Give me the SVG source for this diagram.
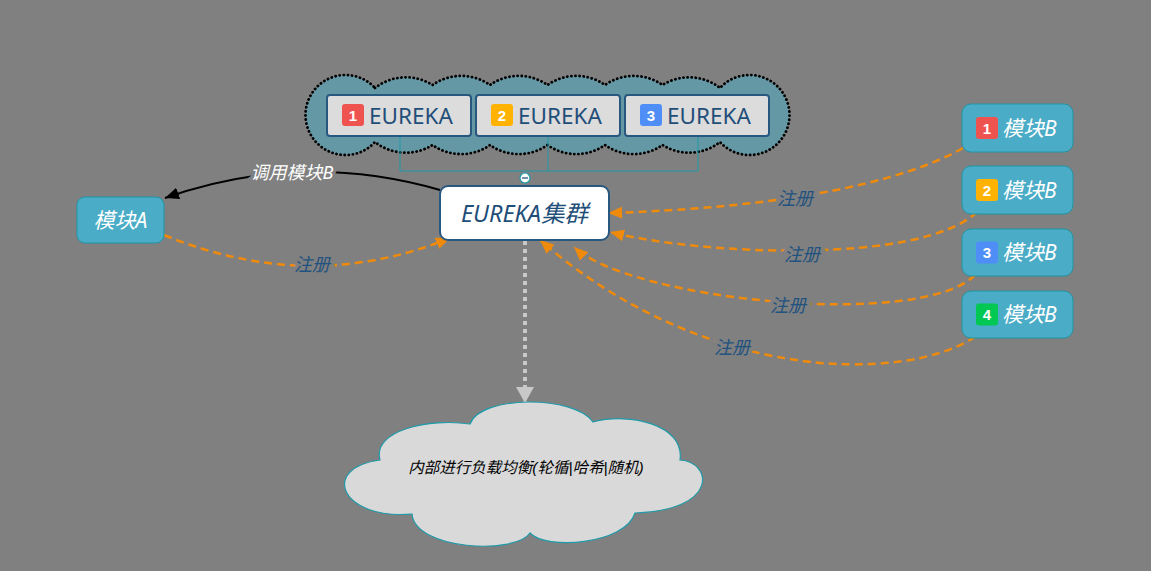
<svg xmlns="http://www.w3.org/2000/svg" width="1151" height="571" viewBox="0 0 1151 571">
<style>
.eb{fill:#dcdcdc;stroke:#28587f;stroke-width:2}
.et{font-family:"Noto Sans","Open Sans","Noto Sans CJK SC",sans-serif;font-size:22.5px;fill:#1f4e79}
.bn{font-family:"Liberation Sans",Arial,sans-serif;font-weight:bold;font-size:15px;fill:#fff;text-anchor:middle}
.mod{fill:#4aacc6;stroke:#1e96a5;stroke-width:1}
.mt{font-family:"Noto Sans","Noto Sans CJK SC",sans-serif;font-style:italic;font-size:21px;fill:#fff}
.reg{fill:none;stroke:#f08a0a;stroke-width:2.5;stroke-dasharray:8 5}
.lbl{font-family:"Noto Sans","Noto Sans CJK SC",sans-serif;font-style:italic;font-size:18px;fill:#22527f;stroke:#808080;stroke-width:7;paint-order:stroke;text-anchor:middle}
.tie{fill:none;stroke:#1e9aa8;stroke-width:1}
</style>
<defs>
<marker id="ao" markerUnits="userSpaceOnUse" markerWidth="16" markerHeight="14" refX="14" refY="7" orient="auto"><path d="M0,1 L14,7 L0,13 z" fill="#f08a0a"/></marker>
<marker id="ab" markerUnits="userSpaceOnUse" markerWidth="16" markerHeight="14" refX="14" refY="7" orient="auto"><path d="M0,1 L14,7 L0,13 z" fill="#000"/></marker>
<marker id="ag" markerUnits="userSpaceOnUse" markerWidth="18" markerHeight="20" refX="16" refY="9" orient="auto"><path d="M0,0 L16,9 L0,18 z" fill="#c8c8c8"/></marker>
</defs>
<rect width="1151" height="571" fill="#808080"/>

<g id="eureka-cloud">
<path d="M375,88 A50,50 0 0,1 432.5,85 A50,50 0 0,1 490,85 A50,50 0 0,1 547.5,85 A50,50 0 0,1 605,85 A50,50 0 0,1 662.5,85 A50,50 0 0,1 720,88 A40,40 0 1,1 720,142 A50,50 0 0,1 662.5,145 A50,50 0 0,1 605,145 A50,50 0 0,1 547.5,145 A50,50 0 0,1 490,145 A50,50 0 0,1 432.5,145 A50,50 0 0,1 375,142 A40,40 0 1,1 375,88 Z" fill="#6598a5" stroke="#000" stroke-width="2.8" stroke-dasharray="0.1 4" stroke-linecap="round"/>
</g>

<g id="ties">
<path class="tie" d="M400,136 V171 M548,136 V171 M698,136 V171 M400,171 H698"/>
</g>

<g id="eureka1">
<rect class="eb" x="327" y="95" width="144" height="41" rx="3"/>
<rect x="342" y="104" width="22" height="22" rx="3" fill="#ef5350"/>
<text class="bn" x="353" y="120.5">1</text>
<text class="et" x="369" y="123.5">EUREKA</text>
</g>
<g id="eureka2">
<rect class="eb" x="476" y="95" width="144" height="41" rx="3"/>
<rect x="491" y="104" width="22" height="22" rx="3" fill="#ffb300"/>
<text class="bn" x="502" y="120.5">2</text>
<text class="et" x="518" y="123.5">EUREKA</text>
</g>
<g id="eureka3">
<rect class="eb" x="625" y="95" width="144" height="41" rx="3"/>
<rect x="640" y="104" width="22" height="22" rx="3" fill="#4f8ef7"/>
<text class="bn" x="651" y="120.5">3</text>
<text class="et" x="667" y="123.5">EUREKA</text>
</g>

<g id="connectors">
<path d="M440,190 Q300,150 165,198" fill="none" stroke="#000" stroke-width="2" marker-end="url(#ab)"/>
<text class="lbl" x="292" y="179" style="fill:#fff">调用模块B</text>
<path class="reg" d="M164,235 Q310,295 450,238" marker-end="url(#ao)"/>
<text class="lbl" x="312" y="271">注册</text>
<path class="reg" d="M963,148 C880,195 720,210 608,213" marker-end="url(#ao)"/>
<text class="lbl" x="795" y="205">注册</text>
<path class="reg" d="M977,212 C920,265 700,255 610,232" marker-end="url(#ao)"/>
<text class="lbl" x="802" y="261">注册</text>
<path class="reg" d="M975,275 C920,330 630,300 574,247" marker-end="url(#ao)"/>
<text class="lbl" x="788" y="312">注册</text>
<path class="reg" d="M975,337 C900,385 700,380 540,240" marker-end="url(#ao)"/>
<text class="lbl" x="732" y="354">注册</text>
<path d="M525,241 V403" fill="none" stroke="#c8c8c8" stroke-width="4" stroke-dasharray="4 4" marker-end="url(#ag)"/>
</g>

<g id="cluster">
<rect x="440" y="186" width="169" height="54" rx="8" fill="#fff" stroke="#28587f" stroke-width="2"/>
<text x="524.5" y="221.5" font-family="Noto Sans, Noto Sans CJK SC, sans-serif" font-style="italic" font-size="23.5" fill="#1f4e79" text-anchor="middle">EUREKA集群</text>
<circle cx="525" cy="178" r="5" fill="#fff" stroke="#1e9aa8" stroke-width="1.2"/>
<path d="M522,178 H528" stroke="#28587f" stroke-width="1.3"/>
</g>

<g id="moduleA">
<rect class="mod" x="77" y="197" width="87" height="46" rx="8"/>
<text class="mt" x="120.5" y="227.5" text-anchor="middle">模块A</text>
</g>

<g id="moduleB1">
<rect class="mod" x="962" y="104" width="111" height="48" rx="9"/>
<rect x="976" y="117" width="22" height="22" rx="3" fill="#ef5350"/>
<text class="bn" x="987" y="133.5">1</text>
<text class="mt" x="1002" y="135.5">模块B</text>
</g>
<g id="moduleB2">
<rect class="mod" x="962" y="166" width="111" height="48" rx="9"/>
<rect x="976" y="179" width="22" height="22" rx="3" fill="#ffb300"/>
<text class="bn" x="987" y="195.5">2</text>
<text class="mt" x="1002" y="197.5">模块B</text>
</g>
<g id="moduleB3">
<rect class="mod" x="962" y="229" width="111" height="47" rx="9"/>
<rect x="976" y="241.5" width="22" height="22" rx="3" fill="#4f8ef7"/>
<text class="bn" x="987" y="258">3</text>
<text class="mt" x="1002" y="260">模块B</text>
</g>
<g id="moduleB4">
<rect class="mod" x="962" y="291" width="111" height="47" rx="9"/>
<rect x="976" y="303.5" width="22" height="22" rx="3" fill="#00c853"/>
<text class="bn" x="987" y="320">4</text>
<text class="mt" x="1002" y="322">模块B</text>
</g>

<g id="lb-cloud">
<path d="M470,424 C480,395 575,395 593,422 C630,412 685,425 680,460 C712,462 720,510 635,513 C625,545 545,550 530,533 C515,555 415,550 412,514 C340,520 320,468 380,460 C372,430 430,418 470,424 Z" fill="#d9d9d9" stroke="#1e9aa8" stroke-width="1.2"/>
<text x="526" y="473" font-family="Liberation Sans, Noto Sans CJK SC, sans-serif" font-style="italic" font-size="15.5" fill="#000" text-anchor="middle">内部进行负载均衡(轮循|哈希|随机)</text>
</g>
</svg>
